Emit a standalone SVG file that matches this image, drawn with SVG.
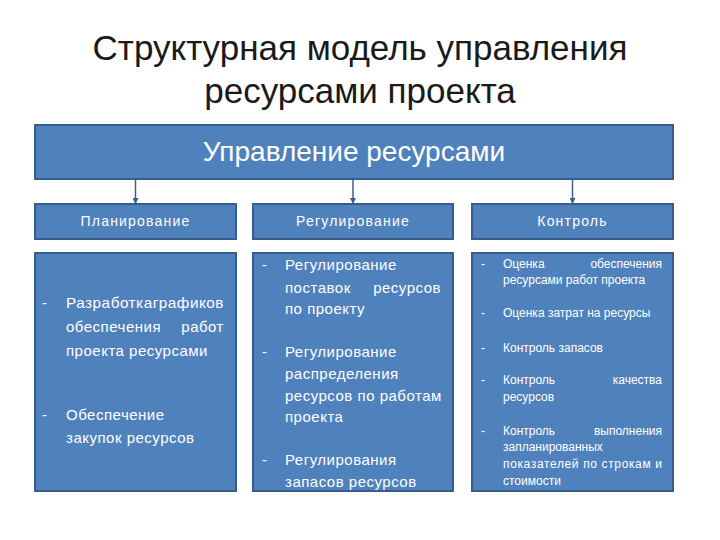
<svg xmlns="http://www.w3.org/2000/svg" width="720" height="540" viewBox="0 0 720 540">
<style>
.box{fill:#4F81BD;stroke:#385D8A;stroke-width:2}
.t{font-family:"Liberation Sans",Arial,sans-serif;fill:#ffffff}
.title{font-family:"Liberation Sans",Arial,sans-serif;fill:#1a1a1a;font-size:35px;text-anchor:middle}
.sub{font-size:14px;text-anchor:middle;letter-spacing:1.2px}
.b15{font-size:15px;letter-spacing:0.5px}
.b12{font-size:12px}
.e{text-anchor:end}
.conn{stroke:#3d5f8f;stroke-width:1.5;fill:none}
</style>
<defs>
<marker id="arr" viewBox="0 0 6 6" refX="5" refY="3" markerWidth="4" markerHeight="4" orient="auto">
<path d="M0,0 L6,3 L0,6 z" fill="#3d5f8f"/>
</marker>
</defs>
<rect width="720" height="540" fill="#ffffff"/>
<g id="title">
<text class="title" x="360" y="60">Структурная модель управления</text>
<text class="title" x="360" y="103">ресурсами проекта</text>
</g>
<g id="connectors">
<line class="conn" x1="135.5" y1="180" x2="135.5" y2="203" marker-end="url(#arr)"/>
<line class="conn" x1="353" y1="180" x2="353" y2="203" marker-end="url(#arr)"/>
<line class="conn" x1="572.5" y1="180" x2="572.5" y2="203" marker-end="url(#arr)"/>
</g>
<g id="root">
<rect class="box" x="35" y="125" width="638" height="54"/>
<text class="t" x="354" y="161" font-size="28" text-anchor="middle">Управление ресурсами</text>
</g>
<g id="planning">
<rect class="box" x="35" y="204" width="201" height="35"/>
<text class="t sub" x="135.5" y="226">Планирование</text>
</g>
<g id="regulation">
<rect class="box" x="253" y="204" width="200" height="35"/>
<text class="t sub" x="353" y="226">Регулирование</text>
</g>
<g id="control">
<rect class="box" x="472" y="204" width="201" height="35"/>
<text class="t sub" x="572.5" y="226">Контроль</text>
</g>
<g id="planning-content">
<rect class="box" x="35" y="253" width="201" height="238"/>
<g class="t b15">
<text x="42" y="308">-</text>
<text x="66" y="308" textLength="158" lengthAdjust="spacingAndGlyphs">Разработкаграфиков</text>
<text x="66" y="332">обеспечения</text>
<text class="e" x="224" y="332">работ</text>
<text x="66" y="356">проекта ресурсами</text>
<text x="42" y="420">-</text>
<text x="66" y="420">Обеспечение</text>
<text x="66" y="443">закупок ресурсов</text>
</g>
</g>
<g id="regulation-content">
<rect class="box" x="253" y="253" width="200" height="238"/>
<g class="t b15">
<text x="262" y="270">-</text>
<text x="285" y="270">Регулирование</text>
<text x="285" y="293">поставок</text>
<text class="e" x="441" y="293">ресурсов</text>
<text x="285" y="314">по проекту</text>
<text x="262" y="357">-</text>
<text x="285" y="357">Регулирование</text>
<text x="285" y="379">распределения</text>
<text x="285" y="401">ресурсов по работам</text>
<text x="285" y="422">проекта</text>
<text x="262" y="465">-</text>
<text x="285" y="465">Регулирования</text>
<text x="285" y="487">запасов ресурсов</text>
</g>
</g>
<g id="control-content">
<rect class="box" x="472" y="253" width="201" height="238"/>
<g class="t b12">
<text x="481" y="268">-</text>
<text x="503" y="268">Оценка</text>
<text class="e" x="662" y="268">обеспечения</text>
<text x="503" y="284">ресурсами работ проекта</text>
<text x="481" y="317">-</text>
<text x="503" y="317">Оценка затрат на ресурсы</text>
<text x="481" y="352">-</text>
<text x="503" y="352">Контроль запасов</text>
<text x="481" y="384">-</text>
<text x="503" y="384">Контроль</text>
<text class="e" x="662" y="384">качества</text>
<text x="503" y="401">ресурсов</text>
<text x="481" y="435">-</text>
<text x="503" y="435">Контроль</text>
<text class="e" x="662" y="435">выполнения</text>
<text x="503" y="451">запланированных</text>
<text x="503" y="468" textLength="159" lengthAdjust="spacing">показателей по строкам и</text>
<text x="503" y="485">стоимости</text>
</g>
</g>
</svg>
